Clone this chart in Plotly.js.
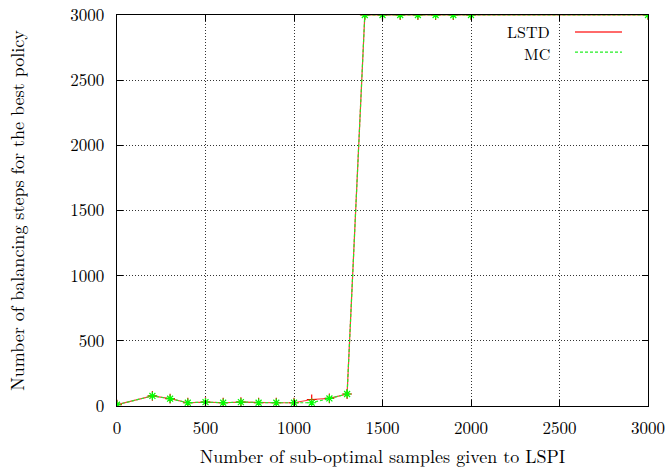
<!DOCTYPE html>
<html><head><meta charset="utf-8">
<script src="https://cdn.plot.ly/plotly-3.0.1.min.js"></script>
<style>html,body{margin:0;padding:0;background:#fff}#plot{width:668px;height:468px}</style>
</head><body><div id="plot"></div>
<script>
const samples = [0,200,300,400,500,600,700,800,900,1000,1100,1200,1300,1400,1500,1600,1700,1800,1900,2000,3000];
const lstdSteps = [10,77,56,25,30,25,30,25,25,25,50,58,92,3000,3000,3000,3000,3000,3000,3000,3000];
const mcSteps   = [10,77,56,25,30,25,30,25,25,25,25,58,92,3000,3000,3000,3000,3000,3000,3000,3000];
const xTicks = [0,500,1000,1500,2000,2500,3000];
const yTicks = [0,500,1000,1500,2000,2500,3000];
const seriesNames = ['LSTD','MC'];

const font = 'Latin Modern Roman, "DejaVu Serif", serif';
const fs = 17;
const tfs = 18;
const lfs = 16;
const traces = [
  {x: samples, y: lstdSteps, name: seriesNames[0], mode: 'lines+markers',
   line: {color: '#ff3838', width: 1.2},
   marker: {symbol: 'cross-thin-open', size: 7, color: '#ff0000', line: {width: 1.2, color: '#ff0000'}}},
  {x: samples, y: mcSteps, name: seriesNames[1], mode: 'lines+markers',
   line: {color: '#22ee22', width: 1.2, dash: '3px,2px'},
   marker: {symbol: 'asterisk-open', size: 7, color: '#00ff00', line: {width: 1.2, color: '#00ff00'}}}
];
const axisCommon = {
  showline: true, linecolor: '#000', linewidth: 1.3, mirror: 'ticks',
  ticks: 'inside', ticklen: 6, tickcolor: '#000', tickwidth: 1,
  showgrid: true, gridcolor: '#333', griddash: '1px,2px', gridwidth: 1,
  zeroline: false, tickfont: {family: font, size: fs, color: '#000'}
};
const layout = {
  width: 668, height: 468,
  margin: {l: 117, r: 20, t: 15, b: 62},
  paper_bgcolor: '#fff', plot_bgcolor: '#fff',
  showlegend: false,
  font: {family: font, size: fs, color: '#000'},
  xaxis: Object.assign({}, axisCommon, {range: [0, 3000], tickvals: xTicks, ticktext: xTicks.map(String),
    ticklabelstandoff: 6,
    title: {text: 'Number of sub-optimal samples given to LSPI', font: {family: font, size: tfs}, standoff: 12}}),
  yaxis: Object.assign({}, axisCommon, {range: [0, 3000], tickvals: yTicks, ticktext: yTicks.map(String),
    ticklabelstandoff: 8,
    title: {text: 'Number of balancing steps for the best policy', font: {family: font, size: tfs}, standoff: 41}}),
  annotations: [
    {xref: 'paper', yref: 'paper', x: 0.82, y: 0.959, xanchor: 'right', yanchor: 'middle', text: seriesNames[0], showarrow: false, font: {family: font, size: lfs}},
    {xref: 'paper', yref: 'paper', x: 0.82, y: 0.9028, xanchor: 'right', yanchor: 'middle', text: seriesNames[1], showarrow: false, font: {family: font, size: lfs}}
  ],
  shapes: [
    {type: 'line', xref: 'paper', yref: 'paper', x0: 0.8625, x1: 0.951, y0: 0.9565, y1: 0.9565, line: {color: '#ff3838', width: 1.3}},
    {type: 'line', xref: 'paper', yref: 'paper', x0: 0.8625, x1: 0.951, y0: 0.905, y1: 0.905, line: {color: '#22ee22', width: 1.3, dash: '3px,2px'}}
  ]
};
Plotly.newPlot('plot', traces, layout, {displayModeBar: false, staticPlot: true});
</script></body></html>
